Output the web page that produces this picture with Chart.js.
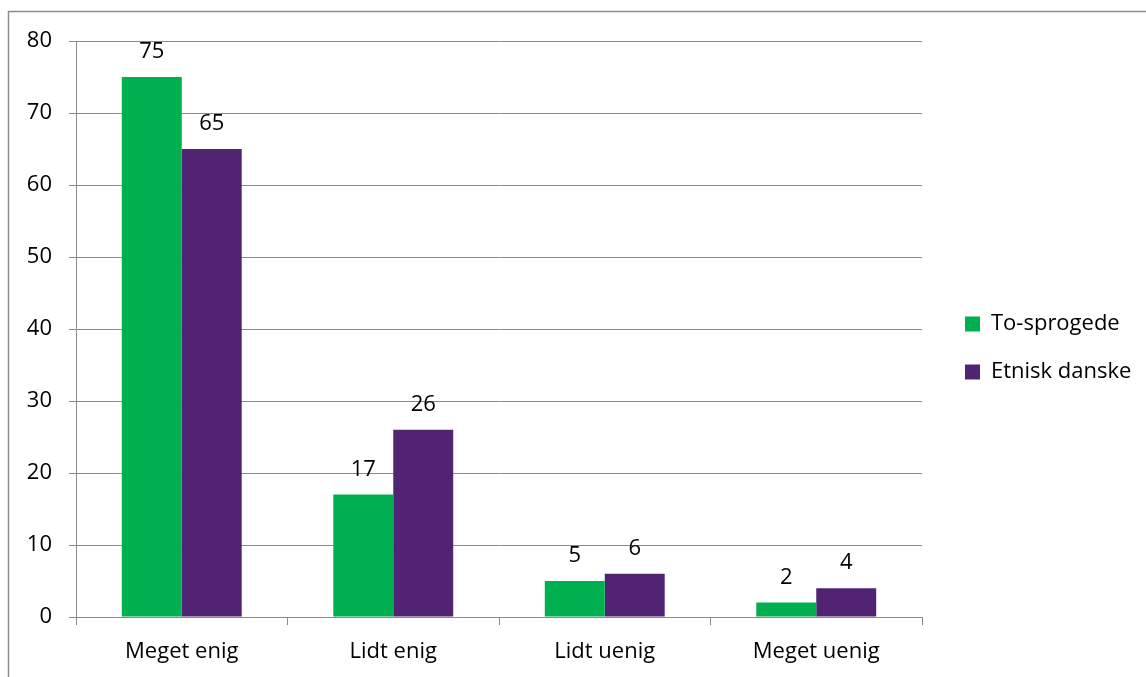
<!DOCTYPE html>
<html>
<head>
<meta charset="utf-8">
<script src="https://cdn.jsdelivr.net/npm/chart.js@4/dist/chart.umd.min.js"></script>
<style>
  html, body { margin: 0; padding: 0; background: #fff; }
  #wrap { position: relative; width: 1146px; height: 677px; }
</style>
</head>
<body>
<div id="wrap"><canvas id="barChart" width="1146" height="677"></canvas></div>
<script>
// chart data
const categories = ['Meget enig', 'Lidt enig', 'Lidt uenig', 'Meget uenig'];
const toSprogede = [75, 17, 5, 2];
const etniskDanske = [65, 26, 6, 4];
const yTicks = [0, 10, 20, 30, 40, 50, 60, 70, 80];

const fontFamily = '"Open Sans", "Noto Sans", sans-serif';
const gridColor = '#8a8a8a';

// outer frame of the chart object
const framePlugin = {
    id: 'frame',
    beforeDraw(chart) {
        const c = chart.ctx;
        c.save();
        c.strokeStyle = '#8c8c8c';
        c.lineWidth = 1.5;
        c.strokeRect(8.5, 11.5, 1400, 1000);
        c.restore();
    }
};

// value labels above each bar
const valueLabels = {
    id: 'valueLabels',
    afterDatasetsDraw(chart) {
        const c = chart.ctx;
        c.save();
        c.font = '22px ' + fontFamily;
        c.fillStyle = '#000';
        c.textAlign = 'center';
        c.textBaseline = 'alphabetic';
        chart.data.datasets.forEach((ds, i) => {
            chart.getDatasetMeta(i).data.forEach((bar, j) => {
                c.fillText(ds.data[j], bar.x, bar.y - 19);
            });
        });
        c.restore();
    }
};

// put the legend where the original has it
const legendPlace = {
    id: 'legendPlace',
    afterLayout(chart) {
        const lg = chart.legend;
        lg.left = 939;
        lg.top = 287;
    }
};

const ctx = document.getElementById('barChart').getContext('2d');
new Chart(ctx, {
    type: 'bar',
    data: {
        labels: categories,
        datasets: [{
            label: 'To-sprogede',
            data: toSprogede,
            backgroundColor: '#00b050',
            borderWidth: 0
        }, {
            label: 'Etnisk danske',
            data: etniskDanske,
            backgroundColor: '#512473',
            borderWidth: 0
        }]
    },
    options: {
        responsive: false,
        animation: false,
        layout: { padding: { top: 41, left: 0, right: 0, bottom: 0 } },
        datasets: {
            bar: { categoryPercentage: 0.567, barPercentage: 1 }
        },
        plugins: {
            legend: {
                position: 'right',
                align: 'start',
                labels: {
                    boxWidth: 15,
                    boxHeight: 15,
                    padding: 26,
                    color: '#000',
                    font: { family: fontFamily, size: 22 }
                }
            },
            tooltip: { enabled: false }
        },
        scales: {
            x: {
                afterFit(scale) { scale.height = 60; },
                border: { color: gridColor, width: 1 },
                grid: {
                    drawOnChartArea: false,
                    drawTicks: true,
                    tickLength: 8,
                    color: gridColor
                },
                ticks: {
                    color: '#000',
                    padding: 14,
                    font: { family: fontFamily, size: 22 }
                }
            },
            y: {
                min: 0,
                max: 80,
                afterFit(scale) { scale.width = 76; },
                afterBuildTicks(scale) {
                    scale.ticks = yTicks.map(v => ({ value: v }));
                },
                border: { color: gridColor, width: 1 },
                grid: {
                    color: gridColor,
                    tickLength: 7
                },
                ticks: {
                    color: '#000',
                    padding: 17,
                    font: { family: fontFamily, size: 22 }
                }
            }
        }
    },
    plugins: [framePlugin, valueLabels, legendPlace, {
        id: 'legendWidth',
        beforeInit(chart) {
            const fit = chart.legend.fit;
            chart.legend.fit = function () {
                fit.call(this);
                this.width = 224;
            };
        }
    }]
});
</script>
</body>
</html>
